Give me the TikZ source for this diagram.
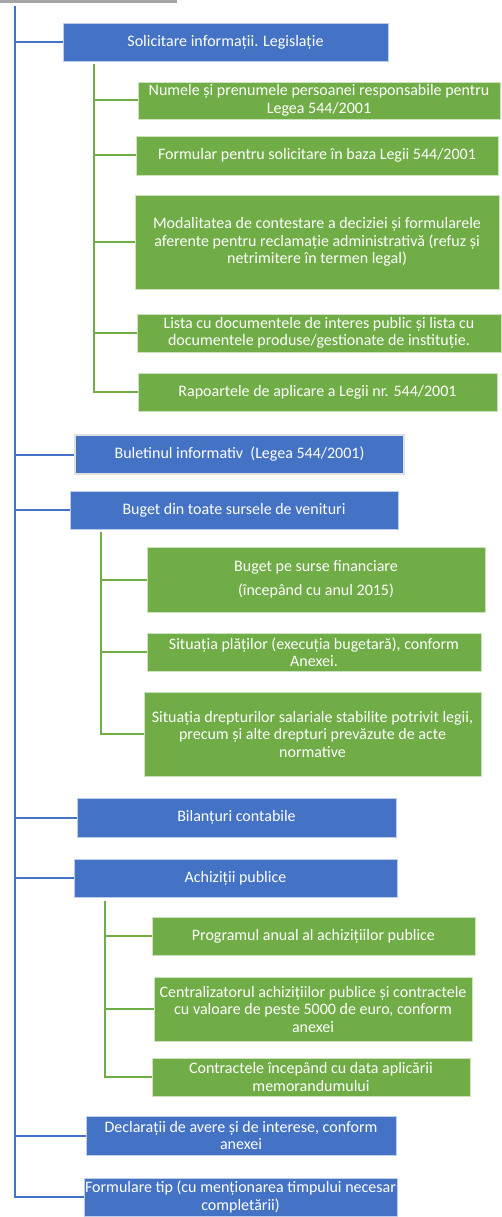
\documentclass[tikz,border=0pt]{standalone}
\usepackage{fontspec}
\setmainfont{Carlito}
\usetikzlibrary{positioning}
\definecolor{headBlue}{HTML}{4472C4}
\definecolor{itemGreen}{HTML}{70AD47}
\definecolor{rootGray}{HTML}{A5A5A5}
\newcommand{\lineWidth}{2pt}
\newcommand{\boxFont}{\fontsize{16}{17.5}\selectfont}

\tikzset{
  mainbox/.style={fill=headBlue, draw=white!65!headBlue, line width=0.5pt,
    text=white, inner sep=0pt, align=center, font=\boxFont},
  subbox/.style={mainbox, fill=itemGreen, draw=white!65!itemGreen},
  size/.style 2 args={minimum width=#1pt, minimum height=#2pt},
  trunkline/.style={draw=headBlue, line width=\lineWidth},
  branchline/.style={draw=itemGreen, line width=\lineWidth},
}

\begin{document}
\begin{tikzpicture}[x=1pt, y=-1pt]
\useasboundingbox (0,0) rectangle (502,1217);
% root (cut off at the top)
\fill[rootGray] (0,0) rectangle (177,3);

% first level
\node[mainbox, size={325}{38}] (solicitare) at (225.5,42) {Solicitare informații. Legislație};
\node[mainbox, size={329}{39}, draw=black!12, line width=2pt] (buletin) at (239.5,454.5) {Buletinul informativ \ (Legea 544/2001)};
\node[mainbox, size={328}{38}] (buget) at (234,510) {Buget din toate sursele de venituri};
\node[mainbox, size={319}{39}] (bilant) at (236.5,817.5) {Bilanțuri contabile};
\node[mainbox, size={323}{38}] (achizitii) at (235.5,878) {Achiziții publice};
\node[mainbox, size={310}{39}] (declaratii) at (241,1135.5) {Declarații de avere și de interese, conform\\anexei};
\node[mainbox, size={313}{38}] (formulare) at (240.5,1197) {Formulare tip (cu menționarea timpului necesar\\completării)};

% second level
\node[subbox, size={362}{37}] (numele) at (319,100.5) {Numele și prenumele persoanei responsabile pentru\\Legea 544/2001};
\node[subbox, size={362}{39}] (formular) at (317,155.5) {Formular pentru solicitare în baza Legii 544/2001};
\node[subbox, size={364}{94}] (contestare) at (317,242) {Modalitatea de contestare a deciziei și formularele\\aferente pentru reclamație administrativă (refuz și\\netrimitere în termen legal)};
\node[subbox, size={364}{38}] (lista) at (319,333) {Lista cu documentele de interes public și lista cu\\documentele produse/gestionate de instituție.};
\node[subbox, size={359}{38}] (rapoarte) at (317.5,392) {Rapoartele de aplicare a Legii nr. 544/2001};

\node[subbox, size={338}{65}] (surse) at (316,579.5) {Buget pe surse financiare\\[6.5pt](începând cu anul 2015)};
\node[subbox, size={334}{38}] (plati) at (314,652) {Situația plăților (execuția bugetară), conform\\Anexei.};
\node[subbox, size={337}{84}] (drepturi) at (312.5,734) {Situația drepturilor salariale stabilite potrivit legii,\\precum și alte drepturi prevăzute de acte\\normative};

\node[subbox, size={323}{38}] (program) at (313.5,936) {Programul anual al achizițiilor publice};
\node[subbox, size={318}{64}] (centralizator) at (313,1009) {Centralizatorul achizițiilor publice și contractele\\cu valoare de peste 5000 de euro, conform\\anexei};
\node[subbox, size={318}{38}] (contracte) at (311,1077) {Contractele începând cu data aplicării\\memorandumului};

% connectors
\coordinate (trunk) at (15,6);
\draw[trunkline] (trunk) |- (formulare.west);
\foreach \n in {solicitare,buletin,buget,bilant,achizitii,declaratii}
  \draw[trunkline] (trunk |- \n.west) -- (\n.west);

\coordinate (legeTop) at (94,64);
\draw[branchline] (legeTop) |- (rapoarte.west);
\foreach \n in {numele,formular,contestare,lista}
  \draw[branchline] (legeTop |- \n.west) -- (\n.west);

\coordinate (bugetTop) at (101,532);
\draw[branchline] (bugetTop) |- (drepturi.west);
\foreach \n in {surse,plati}
  \draw[branchline] (bugetTop |- \n.west) -- (\n.west);

\coordinate (achizTop) at (105,901);
\draw[branchline] (achizTop) |- (contracte.west);
\foreach \n in {program,centralizator}
  \draw[branchline] (achizTop |- \n.west) -- (\n.west);
\end{tikzpicture}
\end{document}
